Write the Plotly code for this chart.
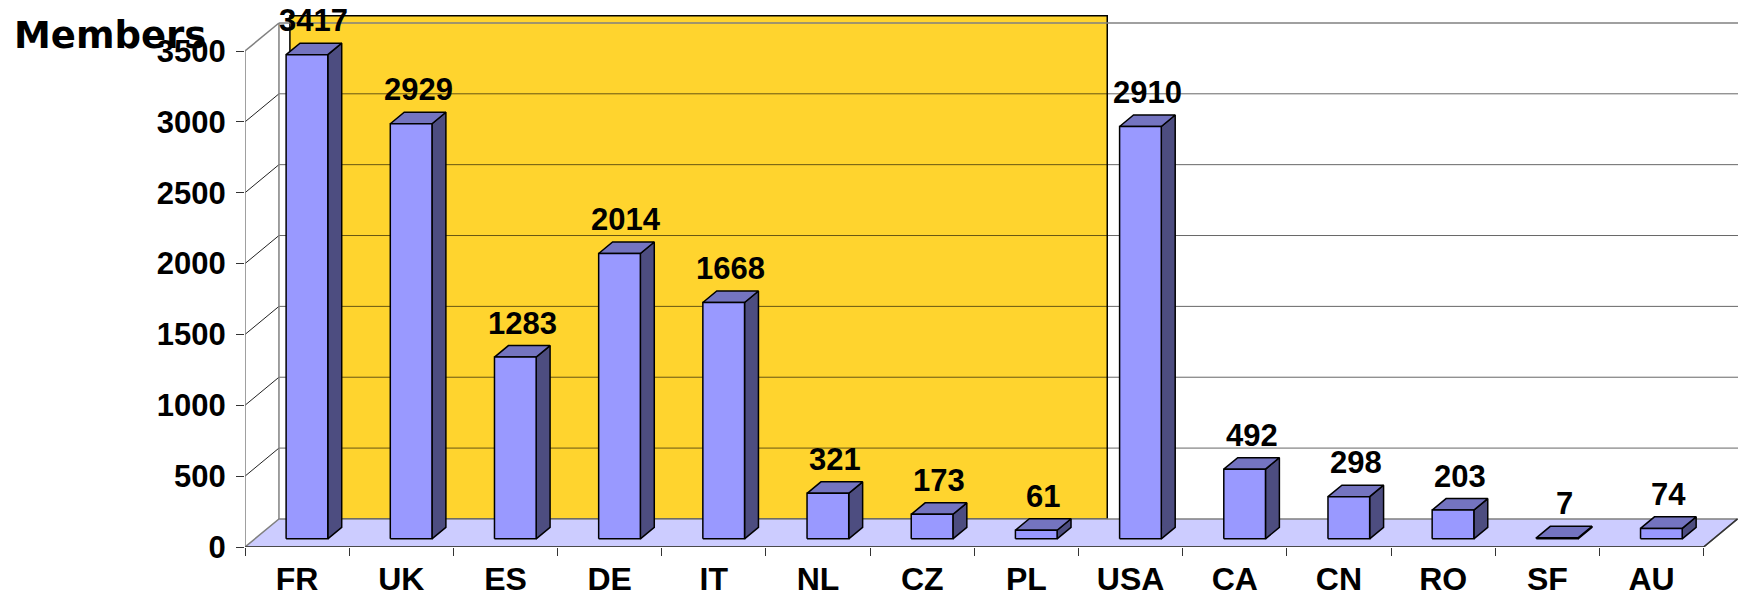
import plotly.graph_objects as go

# ---- data ----
countries = ["FR", "UK", "ES", "DE", "IT", "NL", "CZ", "PL", "USA", "CA", "CN", "RO", "SF", "AU"]
members = [3417, 2929, 1283, 2014, 1668, 321, 173, 61, 2910, 492, 298, 203, 7, 74]
y_ticks = [0, 500, 1000, 1500, 2000, 2500, 3000, 3500]
highlight_group = ("FR", "PL")
title_text = "Members"

# ---- style / geometry ----
W, H = 1738, 601
DX, DY = 0.326, 198.0          # 3D depth offset (category units, value units)
D0, D1 = 0.29, 0.70            # bar depth span
HW = 0.20                      # half bar width (categories)
X_RANGE = [-0.5, 13.83]
Y_RANGE = [0, 3860]
FRONT = "#9999FF"
TOP = "#7474C0"
SIDE = "#4D4D80"
FLOOR = "#CCCCFF"
YELLOW = "#FFD42E"
FONT = "Liberation Sans"

n = len(countries)
xl = -0.5
xr = n - 0.5
ymax_tick = y_ticks[-1]

fig = go.Figure()

# highlight box on back wall
i0 = countries.index(highlight_group[0])
i1 = countries.index(highlight_group[1])
fig.add_shape(type="rect", xref="x", yref="y", layer="below",
              x0=i0 - 0.5 + DX + 0.105, x1=i1 + 0.5 + DX - 0.05,
              y0=DY, y1=ymax_tick + DY + 50,
              fillcolor=YELLOW, line=dict(color="black", width=1.5))

# back-wall gridlines
gx, gy = [], []
for v in y_ticks[1:-1]:
    gx += [xl + DX, X_RANGE[1], None]
    gy += [v + DY, v + DY, None]
fig.add_trace(go.Scatter(x=gx, y=gy, mode="lines", hoverinfo="skip",
                         line=dict(color="rgba(0,0,0,0.6)", width=1)))
fig.add_trace(go.Scatter(x=[xl + DX, X_RANGE[1]], y=[ymax_tick + DY] * 2, mode="lines",
                         hoverinfo="skip", line=dict(color="#808080", width=1.5)))

# left wall diagonals
lx, ly = [], []
for v in y_ticks[1:-1]:
    lx += [xl, xl + DX, None]
    ly += [v, v + DY, None]
fig.add_trace(go.Scatter(x=lx, y=ly, mode="lines", hoverinfo="skip",
                         line=dict(color="#222222", width=1)))
fig.add_trace(go.Scatter(x=[xl, xl + DX, None, xl + DX, xl + DX, None, xl, xl],
                         y=[ymax_tick, ymax_tick + DY, None, DY, ymax_tick + DY, None, 0, ymax_tick],
                         mode="lines", hoverinfo="skip",
                         line=dict(color="#808080", width=1.5)))

# floor
fig.add_trace(go.Scatter(x=[xl, xr, xr + DX, xl + DX, xl], y=[0, 0, DY, DY, 0],
                         mode="lines", fill="toself", fillcolor=FLOOR, hoverinfo="skip",
                         line=dict(color="#808080", width=1.5)))
fig.add_trace(go.Scatter(x=[xl, xr, xr + DX], y=[0, 0, DY], mode="lines", hoverinfo="skip",
                         line=dict(color="#333333", width=1.5)))

# bars
fx, fy, tx, ty, sx, sy = [], [], [], [], [], []
ddx, ddy = (D1 - D0) * DX, (D1 - D0) * DY
for k, v in enumerate(members):
    x0 = k - HW + D0 * DX
    x1 = k + HW + D0 * DX
    y0 = D0 * DY
    y1 = v + D0 * DY
    fx += [x0, x1, x1, x0, x0, None]
    fy += [y0, y0, y1, y1, y0, None]
    tx += [x0, x1, x1 + ddx, x0 + ddx, x0, None]
    ty += [y1, y1, y1 + ddy, y1 + ddy, y1, None]
    sx += [x1, x1 + ddx, x1 + ddx, x1, x1, None]
    sy += [y0, y0 + ddy, y1 + ddy, y1, y0, None]
for px, py, col in [(sx, sy, SIDE), (tx, ty, TOP), (fx, fy, FRONT)]:
    fig.add_trace(go.Scatter(x=px, y=py, mode="lines", fill="toself", fillcolor=col,
                             hoverinfo="skip", line=dict(color="black", width=1.5)))

# value labels
for k, v in enumerate(members):
    fig.add_annotation(x=k + (D0 + D1) / 2 * DX, y=v + D1 * DY, xref="x", yref="y",
                       text=str(v), showarrow=False, yanchor="bottom", yshift=3,
                       font=dict(family=FONT, size=31, color="black", weight="bold"))

fig.update_layout(
    width=W, height=H,
    margin=dict(l=245, r=0, t=0, b=54),
    paper_bgcolor="white", plot_bgcolor="white",
    showlegend=False,
    title=dict(text=title_text, x=14 / W, xanchor="left", xref="container",
               y=1 - 35 / H, yanchor="middle", yref="container",
               font=dict(family="DejaVu Sans", size=37, color="black", weight="bold")),
    xaxis=dict(range=X_RANGE, tickmode="array", tickvals=list(range(n)), ticktext=countries,
               ticks="", showgrid=False, zeroline=False, showline=False,
               tickfont=dict(family=FONT, size=32, color="black", weight="bold"),
               ticklabelstandoff=10,
               minor=dict(tickmode="array", tickvals=[i - 0.5 for i in range(n + 1)],
                          ticks="outside", ticklen=8, tickcolor="#333333", tickwidth=1,
                          showgrid=False)),
    yaxis=dict(range=Y_RANGE, tickmode="array", tickvals=y_ticks,
               ticktext=[str(t) for t in y_ticks],
               ticks="outside", ticklen=8, tickcolor="#333333", tickwidth=1,
               showgrid=False, zeroline=False, showline=False,
               ticklabelstandoff=4,
               tickfont=dict(family=FONT, size=31, color="black", weight="bold")),
)

fig.write_html("out.html", config={"displayModeBar": False},
               post_script="document.body.style.margin='0';document.body.style.overflow='hidden';")
